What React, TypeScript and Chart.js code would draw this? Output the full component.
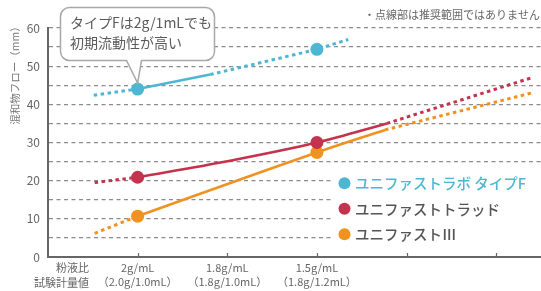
import React, { useEffect, useRef } from 'react';
import { Chart, registerables } from 'chart.js';

Chart.register(...registerables);

const FONT = "'Noto Sans CJK JP', 'Noto Sans', sans-serif";

// categories (x positions on the linear axis) and their labels
const categoryPositions = [1, 2, 3];
const ratioLabels = ['2g/mL', '1.8g/mL', '1.5g/mL'];
const amountLabels = ['（2.0g/1.0mL）', '（1.8g/1.0mL）', '（1.8g/1.2mL）'];
const rowLabels = ['粉液比', '試験計量値'];
const xTickValues = [0, 1, 2, 3, 4, 5];

const seriesNames = ['ユニファストラボ タイプF', 'ユニファストトラッド', 'ユニファストⅢ'];
const seriesColors = ['#4DB7D3', '#C3334D', '#F0921F'];
const legendTextColors = ['#4DB7D3', '#555555', '#555555'];

// measured values (markers)
const measuredX = [1, 3];
const typeFMeasured = [44.0, 54.4];
const tradMeasured = [20.9, 30.0];
const uni3Measured = [10.7, 27.4];

// solid (recommended range)
const typeFSolidX = [1, 1.81];
const typeFSolidY = [44.0, 47.8];
const tradSolidX = [1, 2, 3, 3.78];
const tradSolidY = [20.9, 25.1, 30.0, 35.0];
const uni3SolidX = [1, 3, 3.76];
const uni3SolidY = [10.7, 27.4, 33.3];

// dotted (outside recommended range)
const typeFDotLowX = [0.51, 1];
const typeFDotLowY = [42.4, 44.0];
const typeFDotHighX = [1.81, 3, 3.35];
const typeFDotHighY = [47.8, 54.4, 57.0];
const tradDotLowX = [0.52, 1];
const tradDotLowY = [19.5, 20.9];
const tradDotHighX = [3.78, 5.4];
const tradDotHighY = [35.0, 47.0];
const uni3DotLowX = [0.52, 1];
const uni3DotLowY = [6.2, 10.7];
const uni3DotHighX = [3.76, 5.4];
const uni3DotHighY = [33.3, 43.0];

const yTitle = '混和物フロー（mm）';
const noteText = '・点線部は推奨範囲ではありません';
const calloutLines = ['タイプFは2g/1mLでも', '初期流動性が高い'];

const zip = (xs: number[], ys: number[]) => xs.map((x, i) => ({ x, y: ys[i] }));

function seriesDatasets(
  color: string,
  measured: number[],
  solidX: number[], solidY: number[],
  lowX: number[], lowY: number[],
  highX: number[], highY: number[],
  tension: number,
) {
  const dotted = {
    borderColor: color,
    borderWidth: 3,
    borderDash: [3.5, 3.5],
    pointRadius: 0,
    fill: false,
    order: 3,
  };
  return [
    { ...dotted, data: zip(lowX, lowY) },
    { ...dotted, data: zip(highX, highY) },
    {
      data: zip(solidX, solidY),
      borderColor: color,
      borderWidth: 2.6,
      pointRadius: 0,
      fill: false,
      tension,
      cubicInterpolationMode: 'monotone',
      order: 2,
    },
    {
      data: zip(measuredX, measured),
      showLine: false,
      pointRadius: 6.5,
      pointHoverRadius: 6.5,
      pointBackgroundColor: color,
      pointBorderWidth: 0,
      borderColor: color,
      order: 1,
    },
  ];
}

const decorPlugin = {
  id: 'decor',
  beforeDatasetsDraw(chart: any) {
    const ctx = chart.ctx;
    ctx.save();
    ctx.fillStyle = '#ffffff';
    ctx.fillRect(333, 167, 210, 80);
    ctx.restore();
  },
  afterDraw(chart: any) {
    const ctx = chart.ctx;
    const xs = chart.scales.x;
    const ys = chart.scales.y;
    const bottom = chart.chartArea.bottom;
    ctx.save();

    // inward tick marks on x axis
    ctx.strokeStyle = '#666';
    ctx.lineWidth = 1.2;
    xTickValues.slice(1).forEach((v) => {
      const px = Math.round(xs.getPixelForValue(v)) + 0.5;
      ctx.beginPath();
      ctx.moveTo(px, bottom);
      ctx.lineTo(px, bottom - 4);
      ctx.stroke();
    });

    // row labels
    ctx.fillStyle = '#666';
    ctx.font = `11px ${FONT}`;
    ctx.textAlign = 'right';
    ctx.textBaseline = 'middle';
    ctx.fillText(rowLabels[0], 89, 268);
    ctx.fillText(rowLabels[1], 89, 283);

    // y title
    ctx.save();
    ctx.translate(15, 73);
    ctx.rotate(-Math.PI / 2);
    ctx.textAlign = 'center';
    ctx.fillStyle = '#777';
    ctx.font = `10.5px ${FONT}`;
    ctx.fillText(yTitle, 0, 0);
    ctx.restore();

    // note
    ctx.textAlign = 'right';
    ctx.fillStyle = '#666';
    ctx.font = `11px ${FONT}`;
    ctx.fillText(noteText, 540, 15);

    // legend
    seriesNames.forEach((name, i) => {
      const cy = 183.3 + i * 25.5;
      ctx.beginPath();
      ctx.fillStyle = seriesColors[i];
      ctx.arc(344.5, cy, 6, 0, Math.PI * 2);
      ctx.fill();
      ctx.fillStyle = legendTextColors[i];
      ctx.font = `500 14.5px ${FONT}`;
      ctx.textAlign = 'left';
      ctx.fillText(name, 355, cy + 0.5);
    });

    // callout
    const tipX = xs.getPixelForValue(measuredX[0]);
    const tipY = ys.getPixelForValue(typeFMeasured[0]) - 6;
    const bx = 60.5, by = 7.5, bw = 154, bh = 53, r = 9;
    const pl = 126.5, pr = 141.5;
    ctx.beginPath();
    ctx.moveTo(bx + r, by);
    ctx.lineTo(bx + bw - r, by);
    ctx.arcTo(bx + bw, by, bx + bw, by + r, r);
    ctx.lineTo(bx + bw, by + bh - r);
    ctx.arcTo(bx + bw, by + bh, bx + bw - r, by + bh, r);
    ctx.lineTo(pr, by + bh);
    ctx.lineTo(tipX, tipY);
    ctx.lineTo(pl, by + bh);
    ctx.lineTo(bx + r, by + bh);
    ctx.arcTo(bx, by + bh, bx, by + bh - r, r);
    ctx.lineTo(bx, by + r);
    ctx.arcTo(bx, by, bx + r, by, r);
    ctx.closePath();
    ctx.fillStyle = '#ffffff';
    ctx.fill();
    ctx.strokeStyle = '#a8a8a8';
    ctx.lineWidth = 1.5;
    ctx.stroke();

    ctx.fillStyle = '#5a5a5a';
    ctx.font = `14px ${FONT}`;
    ctx.textAlign = 'left';
    ctx.textBaseline = 'middle';
    ctx.fillText(calloutLines[0], 70, 23);
    ctx.fillText(calloutLines[1], 70, 43);

    ctx.restore();
  },
};

export default function App() {
  const canvasRef = useRef<HTMLCanvasElement | null>(null);

  useEffect(() => {
    if (!canvasRef.current) return;
    const datasets: any[] = [
      ...seriesDatasets(seriesColors[0], typeFMeasured, typeFSolidX, typeFSolidY,
        typeFDotLowX, typeFDotLowY, typeFDotHighX, typeFDotHighY, 0),
      ...seriesDatasets(seriesColors[1], tradMeasured, tradSolidX, tradSolidY,
        tradDotLowX, tradDotLowY, tradDotHighX, tradDotHighY, 0.4),
      ...seriesDatasets(seriesColors[2], uni3Measured, uni3SolidX, uni3SolidY,
        uni3DotLowX, uni3DotLowY, uni3DotHighX, uni3DotHighY, 0),
    ];
    const chart = new Chart(canvasRef.current, {
      type: 'line',
      data: { datasets },
      options: {
        responsive: false,
        animation: false,
        devicePixelRatio: 1,
        layout: { autoPadding: false, padding: { top: 28, right: 0, left: 0, bottom: 0 } },
        plugins: { legend: { display: false }, tooltip: { enabled: false } },
        scales: {
          x: {
            type: 'linear',
            min: 0,
            max: 5.5,
            afterBuildTicks: (s: any) => {
              s.ticks = xTickValues.map((v) => ({ value: v }));
            },
            afterFit: (s: any) => {
              s.height = 34;
              s.paddingLeft = 0;
              s.paddingRight = 0;
            },
            grid: { display: false, drawTicks: false },
            border: { display: true, color: '#666', width: 2 },
            ticks: {
              padding: 3,
              autoSkip: false,
              maxRotation: 0,
              color: '#666',
              font: { family: FONT, size: 11, lineHeight: 1.35 },
              callback: (v: any) => {
                const i = categoryPositions.indexOf(Number(v));
                return i >= 0 ? [ratioLabels[i], amountLabels[i]] : '';
              },
            },
          },
          y: {
            type: 'linear',
            min: 0,
            max: 60,
            afterFit: (s: any) => {
              s.width = 48;
            },
            grid: {
              drawTicks: false,
              lineWidth: 1.3,
              color: (c: any) => (c.tick && c.tick.value === 0 ? 'rgba(0,0,0,0)' : '#8c8c8c'),
            },
            border: { display: true, color: '#666', width: 2, dash: [4, 3.5] },
            ticks: {
              stepSize: 5,
              padding: 8,
              color: '#666',
              font: { family: FONT, size: 12 },
              callback: (v: any) => (Number(v) % 10 === 0 ? String(v) : ''),
            },
          },
        },
      } as any,
      plugins: [decorPlugin],
    });
    return () => chart.destroy();
  }, []);

  return (
    <div style={{ position: 'fixed', left: 0, top: 0, width: 541, height: 291, background: '#fff' }}>
      <canvas ref={canvasRef} width={541} height={291} style={{ width: 541, height: 291 }} />
    </div>
  );
}
